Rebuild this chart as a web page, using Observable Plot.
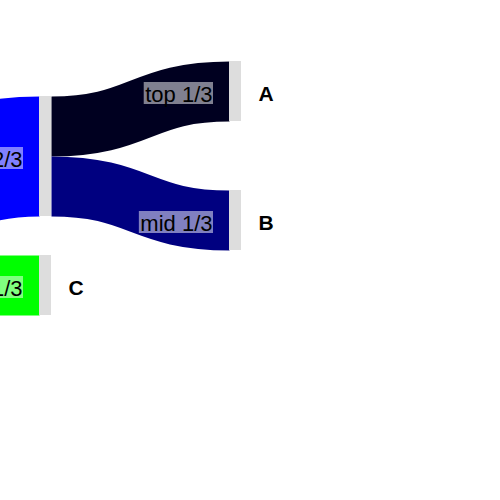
<!DOCTYPE html>
<html>
<head>
<meta charset="utf-8">
<script src="https://cdn.jsdelivr.net/npm/d3@7"></script>
<script src="https://cdn.jsdelivr.net/npm/@observablehq/plot@0.6"></script>
<style>
  html, body { margin: 0; padding: 0; background: white; }
  #chart { width: 500px; height: 500px; overflow: hidden; }
</style>
</head>
<body>
<div id="chart"></div>
<script>
// ---- data ----
const nodeNames   = ["S1", "S2", "M", "A", "B", "C"];
const nodeLabels  = ["", "", "", "A", "B", "C"];
const nodeColumns = [0, 0, 1, 2, 2, 1];

const linkSources = ["S1", "S2", "M", "M"];
const linkTargets = ["M", "C", "A", "B"];
const linkValues  = [2, 1, 1, 1];
const linkLabels  = ["2/3", "1/3", "top 1/3", "mid 1/3"];
const linkColors  = ["#0000ff", "#00ff00", "#000020", "#000080"];

// ---- layout options ----
const W = 500, H = 500;
const layout = {
  unitPx: 60,                 // pixels per unit of flow
  nodeWidthPx: 12,
  columnRange: [-151, 229],   // x of columns 0 and 2 (left edges)
  columnTop: [130 / 60, 96 / 60, 61 / 60],
  columnPad: [5 / 60, 39 / 60, 69 / 60],
  labelGapPx: 17,
  labelDyPx: 3,
  font: "Liberation Sans, Arial, Helvetica, sans-serif",
  linkFontPx: 22,
  nodeFontPx: 21
};
const pxPerCol = (layout.columnRange[1] - layout.columnRange[0]) / 2;
const nw = layout.nodeWidthPx / pxPerCol;

// build nodes
const nodes = nodeNames.map((name, i) => ({
  name, label: nodeLabels[i], col: nodeColumns[i], inV: 0, outV: 0
}));
const byName = new Map(nodes.map(n => [n.name, n]));
const links = linkSources.map((s, i) => ({
  source: byName.get(s), target: byName.get(linkTargets[i]),
  value: linkValues[i], label: linkLabels[i], color: linkColors[i]
}));
for (const l of links) { l.source.outV += l.value; l.target.inV += l.value; }
for (const n of nodes) n.value = Math.max(n.inV, n.outV);

// stack nodes per column
for (let c = 0; c <= 2; c++) {
  let y = layout.columnTop[c];
  for (const n of nodes.filter(n => n.col === c)) {
    n.y0 = y; n.y1 = y + n.value; y = n.y1 + layout.columnPad[c];
  }
}
// link offsets
for (const n of nodes) {
  let so = n.y0, to = n.y0;
  for (const l of links) {
    if (l.source === n) { l.sy = so + l.value / 2; so += l.value; }
    if (l.target === n) { l.ty = to + l.value / 2; to += l.value; }
  }
}

// measure label widths
const ctx = document.createElement("canvas").getContext("2d");
ctx.font = `${layout.linkFontPx}px ${layout.font}`;
for (const l of links) l.w = ctx.measureText(l.label).width;

const boxDy = (layout.labelDyPx - 1) / layout.unitPx;
const boxes = links.map(l => ({
  x1: l.target.col - (layout.labelGapPx + l.w + 1) / pxPerCol,
  x2: l.target.col - (layout.labelGapPx - 1) / pxPerCol,
  y1: l.ty + boxDy - (layout.linkFontPx / 2) / layout.unitPx,
  y2: l.ty + boxDy + (layout.linkFontPx / 2) / layout.unitPx
}));

const chart = Plot.plot({
  width: W, height: H,
  margin: 0,
  x: { domain: [0, 2], range: layout.columnRange, axis: null },
  y: { domain: [0, H / layout.unitPx], range: [0, H], axis: null },
  color: { type: "identity" },
  style: { fontFamily: layout.font, background: "white" },
  marks: [
    Plot.link(links, {
      x1: d => d.source.col + nw, y1: "sy",
      x2: d => d.target.col, y2: "ty",
      stroke: "color",
      strokeWidth: d => d.value * layout.unitPx,
      strokeOpacity: 1,
      curve: "bump-x"
    }),
    Plot.rect(nodes, {
      x1: "col", x2: d => d.col + nw, y1: "y0", y2: "y1",
      fill: "#dddddd"
    }),
    Plot.rect(boxes, {
      x1: "x1", x2: "x2", y1: "y1", y2: "y2",
      fill: "white", fillOpacity: 0.5
    }),
    Plot.text(links, {
      x: d => d.target.col, y: "ty", text: "label",
      dx: -layout.labelGapPx, dy: layout.labelDyPx, textAnchor: "end",
      fontSize: layout.linkFontPx, fill: "black", lineAnchor: "middle"
    }),
    Plot.text(nodes, {
      x: d => d.col + nw, y: d => (d.y0 + d.y1) / 2, text: "label",
      dx: layout.labelGapPx, dy: layout.labelDyPx, textAnchor: "start",
      fontSize: layout.nodeFontPx, fontWeight: "bold", fill: "black",
      lineAnchor: "middle"
    })
  ]
});
document.getElementById("chart").appendChild(chart);
</script>
</body>
</html>
